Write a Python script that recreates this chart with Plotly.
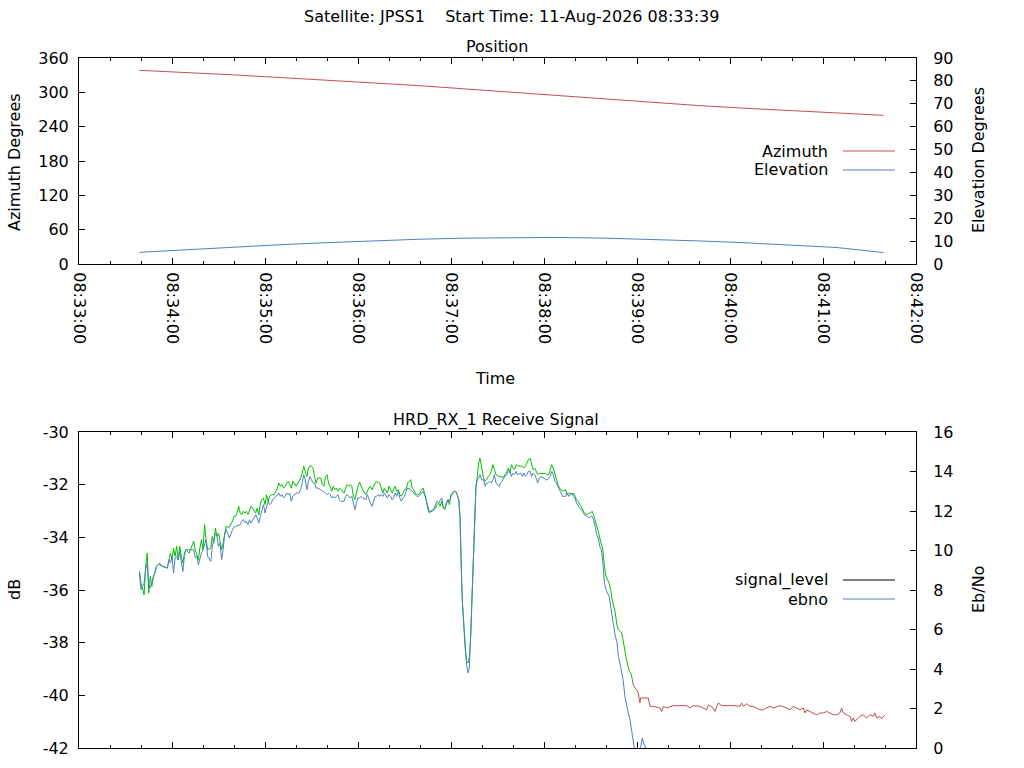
import pandas as pd
import plotly.graph_objects as go

# ---------------- data ----------------
START = "2026-08-11 08:33:00"          # time origin; all times below are seconds after it
AXIS_END_S = 540

# Position (top panel)
pos_t = [39, 69, 99, 129, 159, 189, 219, 249, 279, 309, 339, 369, 399, 429, 459, 489, 519]
azimuth = [338.5, 334.8, 330.6, 326.0, 321.5, 316.6, 311.8, 306.0, 300.3, 293.8,
           287.8, 282.0, 277.0, 272.3, 268.0, 263.8, 259.8]
elevation = [5.1, 6.3, 7.4, 8.4, 9.3, 10.1, 10.8, 11.3, 11.6, 11.6,
             11.3, 10.8, 10.1, 9.3, 8.4, 7.2, 5.0]

# axis ticks
az_ticks = [0, 60, 120, 180, 240, 300, 360]
el_ticks = [0, 10, 20, 30, 40, 50, 60, 70, 80, 90]
db_ticks = [-42, -40, -38, -36, -34, -32, -30]
ebno_ticks = [0, 2, 4, 6, 8, 10, 12, 14, 16]

# Receive signal (bottom panel): common sample times
rx_t = [
    39, 40, 42, 43, 44, 45, 46, 47, 48, 49,
    50, 51, 52, 53, 54, 55, 57, 58, 59, 60,
    61, 62, 63, 64, 65, 66, 67, 68, 69, 71,
    72, 73, 74, 75, 76, 77, 78, 79, 80, 81,
    82, 83, 85, 86, 87, 88, 89, 90, 91, 92,
    93, 94, 95, 96, 97, 99, 100, 101, 102, 103,
    104, 105, 106, 107, 108, 109, 110, 111, 112, 114,
    115, 116, 117, 118, 119, 120, 121, 122, 123, 124,
    125, 126, 128, 129, 130, 131, 132, 133, 134, 135,
    136, 137, 138, 139, 140, 142, 143, 144, 145, 146,
    147, 148, 149, 150, 151, 152, 153, 154, 156, 157,
    158, 159, 160, 161,
    162, 163, 164, 165, 166, 167, 168, 169, 171, 172,
    173, 174, 175, 176, 177, 178, 179, 180, 181, 182,
    183, 185, 186, 187, 188, 189, 190, 191, 192, 193,
    194, 195, 196, 197, 199, 200, 201, 202, 203, 204,
    205, 206, 207, 208, 209, 210, 211, 212, 214, 215,
    216, 217, 218, 219, 220, 221, 222, 223, 224, 225,
    226, 228, 229, 230, 231, 232, 233, 234, 235, 236,
    237, 238, 239, 240, 242, 243, 244, 245, 245.8,
    246.2, 246.9, 247.5, 248.4, 249.2, 250.1, 251.0, 251.8, 252.7, 253.5,
    254.4, 255.3, 256.1, 257.0, 257.8, 258.7, 259.8,
    261, 262, 263, 264, 265, 266, 267, 268, 269, 271,
    272, 273, 274, 275, 276, 277, 278, 279, 280, 281,
    282, 283, 285, 286, 287, 288, 289, 290, 291, 292,
    293, 294, 295, 296, 297, 298, 300, 301, 302, 303,
    304, 305, 306, 307, 308, 309, 310, 311, 312, 314,
    315, 316, 317, 318, 319, 320, 321, 322, 323, 324,
    325, 326, 328, 329, 330, 331, 332, 333, 334, 335,
    336, 337, 338, 339, 340, 342, 343, 344, 345, 346,
    347, 348, 349, 350, 351,
]

signal_level = [
    -35.29, -35.74, -36.18, -35.10, -34.60, -36.12, -35.48, -35.86, -35.48, -35.36,
    -35.10, -35.04, -35.04, -35.08, -35.10, -35.13, -35.17, -34.85, -34.60, -34.85,
    -34.41, -34.72, -34.34, -34.85, -34.34, -34.72, -34.98, -34.60, -34.47, -34.60,
    -34.47, -34.34, -34.15, -34.47, -34.72, -34.85, -34.41, -34.09, -34.47, -33.52,
    -34.09, -34.47, -34.41, -33.96, -34.22, -33.65, -33.96, -33.84, -34.15, -34.47,
    -34.22, -33.84, -33.58, -33.61, -33.61, -33.39, -33.20, -33.20, -33.08, -32.82,
    -33.08, -33.14, -33.01, -33.08, -33.01, -33.14, -33.01, -32.82, -32.89, -33.08,
    -32.89, -33.14, -32.70, -32.57, -32.51, -32.76, -32.38, -32.63, -32.44, -32.38,
    -32.38, -32.38, -32.13, -31.94, -32.06, -32.00, -32.13, -32.06, -31.94, -31.87,
    -32.00, -32.13, -31.87, -31.94, -32.06, -31.87, -31.75, -31.56, -31.30, -31.50,
    -31.69, -31.37, -31.28, -31.30, -31.37, -31.69, -31.94, -31.75, -31.75, -32.00,
    -32.06, -31.69, -31.62, -31.94,
    -32.06, -32.25, -32.06, -32.19, -32.13, -32.25, -32.13, -32.19, -32.32, -32.13,
    -32.00, -32.06, -32.00, -32.06, -32.44, -32.57, -32.25, -32.06, -31.90, -32.06,
    -32.19, -32.38, -32.25, -32.13, -32.06, -32.19, -32.06, -31.94, -31.90, -31.90,
    -31.94, -32.19, -32.32, -32.13, -32.32, -32.06, -32.19, -32.32, -32.19, -32.06,
    -32.25, -32.19, -32.38, -32.44, -32.32, -32.19, -32.19, -31.94, -31.81, -32.13,
    -32.19, -32.32, -32.38, -32.38, -32.32, -32.19, -32.13, -32.32, -32.57, -32.89,
    -33.08, -32.95, -32.95, -32.89, -32.76, -32.70, -32.82, -32.63, -32.89, -32.95,
    -32.70, -32.57, -32.76, -32.38, -32.25, -32.25, -32.38, -32.57, -33.20,
    -34.47, -35.74, -36.62, -37.51, -38.27, -38.71, -38.77, -38.58, -37.76, -36.37,
    -34.72, -33.20, -32.06, -31.69, -31.18, -30.99, -31.43,
    -31.75, -31.87, -31.81, -31.69, -31.62, -31.50, -31.24, -31.43, -31.62, -31.69,
    -31.71, -31.71, -31.71, -31.62, -31.50, -31.37, -31.56, -31.24, -31.37, -31.43,
    -31.24, -31.28, -31.28, -31.30, -31.37, -31.30, -31.18, -31.05, -30.99, -31.24,
    -31.43, -31.37, -31.50, -31.62, -31.56, -31.58, -31.58, -31.58, -31.62, -31.62,
    -31.43, -31.24, -31.37, -31.62, -31.81, -32.00, -32.13, -32.19, -32.25, -32.19,
    -32.38, -32.32, -32.32, -32.38, -32.32, -32.44, -32.57, -32.63, -32.76, -32.82,
    -32.95, -33.08, -33.14, -33.08, -33.08, -33.01, -33.14, -33.33, -33.58, -33.77,
    -34.03, -34.22, -34.47, -35.10, -35.48, -35.74, -35.99, -36.37, -36.62, -36.87,
    -37.32, -37.51, -37.57, -37.63, -37.89,
]

ebno = [
    8.86, 8.02, 8.35, 9.03, 9.37, 8.27, 8.10, 8.35, 8.60, 8.86,
    9.20, 9.28, 9.37, 9.23, 9.20, 9.16, 9.11, 9.53, 9.37, 9.70,
    8.86, 9.62, 9.70, 9.53, 9.96, 9.45, 8.94, 9.70, 10.04, 10.04,
    10.04, 10.04, 10.04, 9.62, 9.70, 9.28, 9.62, 9.87, 10.04, 10.29,
    10.55, 9.70, 9.45, 10.21, 10.55, 10.88, 10.72, 10.21, 10.38, 9.53,
    10.04, 10.88, 11.05, 10.80, 10.63, 11.05, 11.19, 11.22, 11.26, 11.29,
    11.31, 11.47, 11.56, 11.42, 11.47, 11.31, 11.56, 11.39, 11.56, 11.81,
    11.64, 11.39, 11.73, 12.07, 12.32, 11.90, 12.23, 12.49, 12.32, 12.40,
    12.57, 12.66, 12.83, 12.91, 12.74, 12.83, 12.66, 12.74, 12.91, 12.83,
    12.91, 12.49, 12.74, 12.83, 12.91, 12.91, 13.08, 13.42, 13.84, 13.58,
    13.08, 13.50, 13.75, 13.58, 13.42, 13.42, 13.16, 13.16, 13.08, 12.99,
    12.99, 12.91, 12.83, 12.91,
    12.83, 12.66, 12.74, 12.66, 12.74, 12.83, 12.57, 12.49, 12.49, 12.74,
    12.83, 12.74, 12.66, 12.74, 12.32, 12.07, 12.40, 12.66, 12.66, 12.74,
    12.66, 12.57, 12.83, 12.57, 12.40, 12.23, 12.49, 12.74, 12.74, 12.83,
    12.74, 12.83, 12.74, 12.91, 12.66, 12.83, 12.74, 12.57, 12.66, 12.91,
    12.74, 12.99, 12.66, 12.49, 12.66, 12.74, 12.99, 13.16, 13.08, 12.99,
    12.91, 12.83, 12.74, 12.74, 12.83, 12.91, 12.99, 12.83, 12.57, 12.23,
    11.98, 11.98, 12.07, 12.32, 12.49, 12.40, 12.57, 12.66, 12.23, 12.15,
    12.40, 12.57, 12.49, 12.74, 12.99, 12.99, 12.83, 12.57, 11.73,
    10.04, 8.35, 7.17, 5.99, 4.98, 4.21, 3.80, 4.05, 5.65, 7.51,
    9.70, 11.73, 13.25, 13.58, 13.67, 13.84, 13.58,
    13.58, 13.25, 13.42, 13.42, 13.50, 13.42, 13.58, 13.84, 13.42, 13.25,
    13.42, 13.50, 13.67, 13.75, 13.84, 14.01, 14.09, 13.75, 13.92, 13.84,
    14.01, 13.84, 13.92, 13.75, 13.92, 13.75, 13.84, 14.01, 14.01, 13.75,
    13.92, 13.84, 13.58, 13.42, 13.67, 13.75, 13.67, 13.58, 13.58, 13.67,
    13.75, 14.01, 13.84, 13.50, 13.42, 13.25, 13.08, 12.99, 12.74, 12.74,
    12.91, 12.74, 12.83, 12.91, 12.74, 12.66, 12.40, 12.23, 12.15, 12.07,
    11.98, 11.81, 11.73, 11.64, 11.73, 11.73, 11.56, 11.22, 10.80, 10.63,
    10.21, 10.04, 9.37, 8.35, 8.02, 7.68, 7.17, 6.83, 6.33, 5.65,
    5.40, 4.64, 4.30, 3.80, 3.46,
]

# signal level after 351 s (receiver loses lock at 357 s)
sig_tail_t = [
    352, 353, 354, 355, 356, 357,
    357.6, 358.7, 359.8, 360.8, 361.9, 362.3, 364.1, 367.3, 368.4, 370.5,
    374.8, 375.9, 377.0, 379.1, 383.4, 387.7, 392.0, 394.2, 396.3, 400.6,
    404.9, 406.0, 409.2, 410.3, 412.4, 414.6, 417.8, 422.1, 426.4, 427.5,
    428.6, 430.7, 432.9, 435.0, 439.3, 441.5, 443.6, 445.8, 447.9, 450.1,
    452.2, 456.5, 458.7, 460.8, 463.0, 465.1, 467.3, 468.4, 469.4, 471.6,
    473.7, 475.9, 478.0, 480.2, 482.3, 484.5, 486.6, 488.8, 490.9, 492.0,
    493.1, 495.2, 497.4, 498.5, 499.5, 500.6, 501.7, 503.8, 506.0, 508.1,
    510.3, 512.4, 513.5, 514.6, 516.7, 517.8, 518.9, 520.0,
]
sig_tail_db = [
    -38.27, -38.58, -38.84, -39.09, -39.15, -39.40,
    -39.60, -39.72, -39.79, -39.91, -40.29, -40.10, -40.10, -40.10, -40.42, -40.42,
    -40.48, -40.61, -40.42, -40.48, -40.39, -40.39, -40.39, -40.48, -40.39, -40.42,
    -40.55, -40.36, -40.48, -40.61, -40.29, -40.39, -40.39, -40.39, -40.42, -40.29,
    -40.42, -40.32, -40.42, -40.42, -40.55, -40.55, -40.48, -40.42, -40.48, -40.42,
    -40.39, -40.48, -40.55, -40.42, -40.48, -40.55, -40.48, -40.67, -40.55, -40.61,
    -40.67, -40.74, -40.67, -40.67, -40.61, -40.67, -40.74, -40.74, -40.67, -40.48,
    -40.67, -40.74, -40.80, -40.99, -40.86, -40.99, -40.92, -40.80, -40.74, -40.86,
    -40.74, -40.80, -40.67, -40.86, -40.80, -40.89, -40.80, -40.76,
]
LOCK_LOST_S = 357

# ebno after 351 s
ebno_tail_t = [352.2, 353.3, 354.4, 355.5, 356.5, 357.6, 359.0, 361.0, 362.5, 363.4,
               364.5, 366.2, 368.0, 400.0, 450.0, 520.0]
ebno_tail = [2.61, 2.11, 1.77, 1.43, 0.93, 0.29, -0.4, -0.3, 0.1, 0.5,
             0.2, -0.1, -0.8, -1.0, -1.0, -1.0]

assert len(rx_t) == len(signal_level) == len(ebno)
assert len(sig_tail_t) == len(sig_tail_db)
assert len(ebno_tail_t) == len(ebno_tail)

# ---------------- styling ----------------
RED = "#c0504d"
BLUE = "#4f81bd"
GREEN = "#00c000"
FONT = "DejaVu Sans"
FS = 16
W, H = 1024, 768

base = pd.Timestamp(START)


def ts(secs):
    return [base + pd.Timedelta(seconds=float(s)) for s in secs]


sig_t_all = list(rx_t) + list(sig_tail_t)
sig_all = list(signal_level) + list(sig_tail_db)
green_t = [t for t in sig_t_all if t <= LOCK_LOST_S]
green_v = [v for t, v in zip(sig_t_all, sig_all) if t <= LOCK_LOST_S]
red_t = [t for t in sig_t_all if t >= LOCK_LOST_S]
red_v = [v for t, v in zip(sig_t_all, sig_all) if t >= LOCK_LOST_S]

fig = go.Figure()
fig.add_trace(go.Scatter(x=ts(pos_t), y=azimuth, xaxis="x", yaxis="y", mode="lines",
                         line=dict(color=RED, width=1), name="Azimuth"))
fig.add_trace(go.Scatter(x=ts(pos_t), y=elevation, xaxis="x", yaxis="y2", mode="lines",
                         line=dict(color=BLUE, width=1), name="Elevation"))
fig.add_trace(go.Scatter(x=ts(green_t), y=green_v, xaxis="x2", yaxis="y3", mode="lines",
                         line=dict(color=GREEN, width=1), name="signal_level"))
fig.add_trace(go.Scatter(x=ts(red_t), y=red_v, xaxis="x2", yaxis="y3", mode="lines",
                         line=dict(color=RED, width=1), name="signal_level"))
fig.add_trace(go.Scatter(x=ts(list(rx_t) + ebno_tail_t), y=list(ebno) + ebno_tail,
                         xaxis="x2", yaxis="y4", mode="lines",
                         line=dict(color=BLUE, width=1), name="ebno"))


def px(x):
    return x / W


def py(y):
    return 1 - y / H


def tick_text(vals):
    return [str(v) for v in vals]   # plain ASCII hyphen for negatives, as gnuplot prints


xdom = [px(79), px(916)]
xrange_ = [base, base + pd.Timedelta(seconds=AXIS_END_S)]
common_x = dict(type="date", range=xrange_, dtick=60000, tick0=base, tickformat="%H:%M:%S",
                ticks="inside", ticklen=6, tickcolor="black", showline=True, linecolor="black",
                linewidth=1, mirror="ticks", showgrid=False, zeroline=False, automargin=False,
                minor=dict(dtick=20000, tick0=base, ticks="inside", ticklen=3, tickcolor="black",
                           showgrid=False),
                tickfont=dict(family=FONT, size=FS, color="black"), domain=xdom)
common_y = dict(ticks="inside", ticklen=6, tickcolor="black", showline=True, linecolor="black",
                linewidth=1, showgrid=False, zeroline=False, automargin=False,
                tickmode="array", tickfont=dict(family=FONT, size=FS, color="black"))

fig.update_layout(
    width=W, height=H, autosize=False,
    margin=dict(l=0, r=0, t=0, b=0, pad=0),
    paper_bgcolor="white", plot_bgcolor="white",
    showlegend=False,
    font=dict(family=FONT, size=FS, color="black"),
    xaxis=dict(common_x, anchor="y", tickangle=90, ticklabelstandoff=4),
    xaxis2=dict(common_x, anchor="y3", showticklabels=False),
    yaxis=dict(common_y, domain=[py(264), py(58)], anchor="x", range=[0, 360],
               tickvals=az_ticks, ticktext=tick_text(az_ticks), ticklabelstandoff=6),
    yaxis2=dict(common_y, overlaying="y", side="right", anchor="x", range=[0, 90],
                tickvals=el_ticks, ticktext=tick_text(el_ticks), ticklabelstandoff=13),
    yaxis3=dict(common_y, domain=[py(748), py(432)], anchor="x2", range=[-42, -30],
                tickvals=db_ticks, ticktext=tick_text(db_ticks), ticklabelstandoff=6),
    yaxis4=dict(common_y, overlaying="y3", side="right", anchor="x2", range=[0, 16],
                tickvals=ebno_ticks, ticktext=tick_text(ebno_ticks), ticklabelstandoff=13),
)


def text(s, x, y, xanchor="center", angle=0):
    fig.add_annotation(text=s, x=px(x), y=py(y), xref="paper", yref="paper",
                       xanchor=xanchor, yanchor="middle", textangle=angle, showarrow=False,
                       font=dict(family=FONT, size=FS, color="black"))


text("Satellite: JPSS1\u00a0\u00a0\u00a0\u00a0Start Time: 11-Aug-2026 08:33:39", 511, 17)
text("Position", 497, 46)
text("Time", 495, 379)
text("HRD_RX_1 Receive Signal", 496, 420)
text("Azimuth Degrees", 14, 162, angle=-90)
text("Elevation Degrees", 978, 160, angle=-90)
text("dB", 14, 590, angle=-90)
text("Eb/No", 978, 590, angle=-90)

# key (legend) drawn gnuplot-style: label on the left, line sample on the right
for label, y, color in [("Azimuth", 151, RED), ("Elevation", 170, BLUE),
                        ("signal_level", 580, "black"), ("ebno", 599, BLUE)]:
    text(label, 830, y, xanchor="right")
    fig.add_shape(type="line", xref="paper", yref="paper", x0=px(843), x1=px(895),
                  y0=py(y), y1=py(y), line=dict(color=color, width=1))

fig.write_html(
    "out.html",
    config={"displayModeBar": False},
    post_script="document.body.style.margin='0';document.body.style.overflow='hidden';",
)
